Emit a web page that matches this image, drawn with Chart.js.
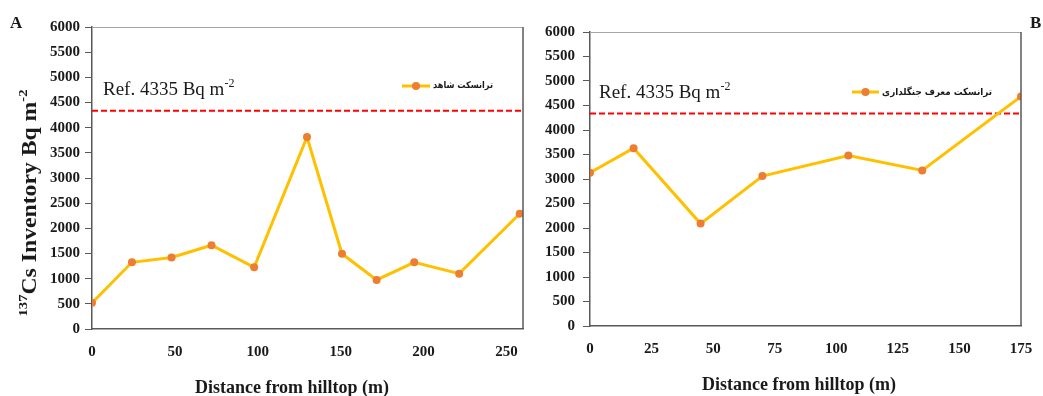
<!DOCTYPE html>
<html>
<head>
<meta charset="utf-8">
<script src="https://cdn.jsdelivr.net/npm/chart.js@4.4.1/dist/chart.umd.min.js"></script>
<style>
  html, body { margin: 0; padding: 0; background: #fff; }
  #wrap { position: relative; width: 1043px; height: 396px; overflow: hidden; }
  .panel { position: absolute; top: 0; height: 396px; }
  #pa { left: 0; width: 540px; }
  #pb { left: 540px; width: 503px; }
</style>
</head>
<body>
<div id="wrap">
  <div class="panel" id="pa"><canvas id="ca"></canvas></div>
  <div class="panel" id="pb"><canvas id="cb"></canvas></div>
</div>
<script>
// Transect A (control): distance from hilltop (m) and 137Cs inventory (Bq m-2)
const distanceA = [0, 24.1, 48.0, 72.1, 97.8, 129.7, 150.8, 171.7, 194.4, 221.5, 258.0];
const inventoryA = [520, 1325, 1420, 1665, 1225, 3815, 1495, 975, 1325, 1100, 2290];

// Transect B (forestry representative)
const distanceB = [0, 17.7, 44.9, 70.0, 104.9, 134.9, 175];
const inventoryB = [3130, 3630, 2090, 3060, 3480, 3175, 4685];

// Reference inventory
const referenceInventory = 4335;

// Series names
const seriesNameA = 'ترانسکت شاهد';
const seriesNameB = 'ترانسکت معرف جنگلداری';

// Tick labels
const yTicks = [0, 500, 1000, 1500, 2000, 2500, 3000, 3500, 4000, 4500, 5000, 5500, 6000];
const xTicksA = [0, 50, 100, 150, 200, 250];
const xTicksB = [0, 25, 50, 75, 100, 125, 150, 175];

const LINE = '#FFC000';
const MARK = '#ED7D31';
const AXIS = '#595959';
const SERIF = '"Liberation Serif", "Times New Roman", serif';

function toPoints(xs, ys) { return xs.map((x, i) => ({ x: x, y: ys[i] })); }

// Rich text helpers: runs of normal text and superscripts on one baseline
function richWidth(ctx, parts, size, weight) {
  let w = 0;
  parts.forEach(p => {
    ctx.font = weight + ' ' + (p.sup ? Math.round(size * 0.62) : size) + 'px ' + SERIF;
    w += ctx.measureText(p.t).width;
  });
  return w;
}
function drawRich(ctx, parts, x, y, size, weight) {
  ctx.textAlign = 'left';
  ctx.textBaseline = 'alphabetic';
  parts.forEach(p => {
    const s = p.sup ? Math.round(size * 0.62) : size;
    ctx.font = weight + ' ' + s + 'px ' + SERIF;
    ctx.fillText(p.t, x, p.sup ? y - size * 0.42 : y);
    x += ctx.measureText(p.t).width;
  });
}

const decorations = {
  id: 'decorations',
  afterDraw(chart, args, o) {
    const ctx = chart.ctx;
    const a = chart.chartArea;
    ctx.save();
    // frame: light top edge, darker right edge
    ctx.strokeStyle = '#A6A6A6';
    ctx.lineWidth = 1;
    ctx.beginPath(); ctx.moveTo(a.left, a.top + 0.5); ctx.lineTo(a.right, a.top + 0.5); ctx.stroke();
    ctx.strokeStyle = AXIS;
    ctx.lineWidth = 1.5;
    ctx.beginPath(); ctx.moveTo(a.right, a.top); ctx.lineTo(a.right, a.bottom); ctx.stroke();

    ctx.fillStyle = '#1a1a1a';
    // reference label
    drawRich(ctx, [{ t: 'Ref. ' + referenceInventory + ' Bq m' }, { t: '-2', sup: true }], o.refX, o.refY, 19, 'normal');

    // legend (line sample, marker, right-to-left label)
    ctx.strokeStyle = LINE; ctx.lineWidth = 3;
    ctx.beginPath(); ctx.moveTo(o.legX0, o.legY); ctx.lineTo(o.legX1, o.legY); ctx.stroke();
    ctx.fillStyle = MARK;
    ctx.beginPath(); ctx.arc((o.legX0 + o.legX1) / 2, o.legY, 4, 0, Math.PI * 2); ctx.fill();
    ctx.fillStyle = '#1a1a1a';
    ctx.font = 'bold 10px "DejaVu Sans Condensed", "DejaVu Sans", sans-serif';
    const lw = ctx.measureText(o.legText).width;
    const ls = Math.min(10, 10 * o.legTextW / lw);
    ctx.font = 'bold ' + ls.toFixed(2) + 'px "DejaVu Sans Condensed", "DejaVu Sans", sans-serif';
    ctx.textAlign = 'right'; ctx.textBaseline = 'middle';
    ctx.fillText(o.legText, o.legTextRight, o.legY);

    // x axis title
    ctx.font = 'bold 18px ' + SERIF;
    ctx.textAlign = 'center'; ctx.textBaseline = 'alphabetic';
    ctx.fillText('Distance from hilltop (m)', o.xTitleX, o.xTitleY);

    // panel letter
    ctx.font = 'bold 17px ' + SERIF;
    ctx.textAlign = 'left';
    ctx.fillText(o.letter, o.letterX, o.letterY);

    // y axis title, rotated
    if (o.yTitle) {
      const parts = [{ t: '137', sup: true }, { t: 'Cs Inventory Bq m' }, { t: '-2', sup: true }];
      const size = 21;
      const w = richWidth(ctx, parts, size, 'bold');
      ctx.translate(o.yTitleX, o.yTitleY);
      ctx.rotate(-Math.PI / 2);
      ctx.scale(o.yTitleLen / w, 1);
      drawRich(ctx, parts, -w / 2, 0, size, 'bold');
    }
    ctx.restore();
  }
};

function makeChart(id, cfg) {
  return new Chart(document.getElementById(id), {
    type: 'line',
    data: {
      datasets: [
        {
          label: cfg.name,
          data: toPoints(cfg.xs, cfg.ys),
          borderColor: LINE,
          borderWidth: 3,
          pointRadius: 4,
          pointBackgroundColor: MARK,
          pointBorderColor: MARK,
          pointBorderWidth: 0,
          tension: 0,
          order: 1
        },
        {
          label: 'Ref.',
          data: toPoints([0, cfg.xMax], [referenceInventory, referenceInventory]),
          borderColor: '#FF0000',
          borderWidth: 2,
          borderDash: [6, 3],
          pointRadius: 0,
          order: 2
        }
      ]
    },
    options: {
      responsive: true,
      maintainAspectRatio: false,
      animation: false,
      layout: { padding: { top: cfg.padTop, right: cfg.padRight, left: 0, bottom: 0 } },
      plugins: {
        legend: { display: false },
        tooltip: { enabled: false },
        decorations: cfg.deco
      },
      scales: {
        x: {
          type: 'linear',
          min: 0,
          max: cfg.xMax,
          afterBuildTicks(s) { s.ticks = cfg.xTicks.map(v => ({ value: v })); },
          afterFit(s) { s.height = cfg.xAxisH; s.paddingLeft = 0; s.paddingRight = 0; },
          grid: { drawOnChartArea: false, drawTicks: false },
          border: { color: AXIS, width: 1.5 },
          ticks: {
            color: '#1a1a1a', padding: 14, maxRotation: 0,
            callback: v => String(v),
            font: { family: SERIF, size: 15, weight: 'bold' }
          }
        },
        y: {
          min: 0,
          max: 6000,
          afterBuildTicks(s) { s.ticks = yTicks.map(v => ({ value: v })); },
          afterFit(s) { s.width = cfg.yAxisW; s.paddingTop = 0; s.paddingBottom = 0; },
          grid: { drawOnChartArea: false, tickLength: 7, color: AXIS, lineWidth: 1 },
          border: { color: AXIS, width: 1.5 },
          ticks: {
            color: '#1a1a1a', padding: cfg.yPad,
            callback: v => String(v),
            font: { family: SERIF, size: 15, weight: 'bold' }
          }
        }
      }
    },
    plugins: [decorations]
  });
}

makeChart('ca', {
  name: seriesNameA, xs: distanceA, ys: inventoryA, xMax: 260, xTicks: xTicksA,
  padTop: 27, padRight: 17, xAxisH: 67, yAxisW: 92, yPad: 5,
  deco: {
    refX: 103, refY: 95,
    legX0: 402, legX1: 430, legY: 86, legTextRight: 493, legTextW: 60, legText: seriesNameA,
    xTitleX: 292, xTitleY: 393,
    letter: 'A', letterX: 10, letterY: 28,
    yTitle: true, yTitleX: 36, yTitleY: 203, yTitleLen: 227
  }
});

makeChart('cb', {
  name: seriesNameB, xs: distanceB, ys: inventoryB, xMax: 175, xTicks: xTicksB,
  padTop: 32, padRight: 22, xAxisH: 70, yAxisW: 50, yPad: 8,
  deco: {
    refX: 59, refY: 98,
    legX0: 312, legX1: 339, legY: 92, legTextRight: 452, legTextW: 110, legText: seriesNameB,
    xTitleX: 259, xTitleY: 390,
    letter: 'B', letterX: 490, letterY: 28,
    yTitle: false
  }
});
</script>
</body>
</html>
